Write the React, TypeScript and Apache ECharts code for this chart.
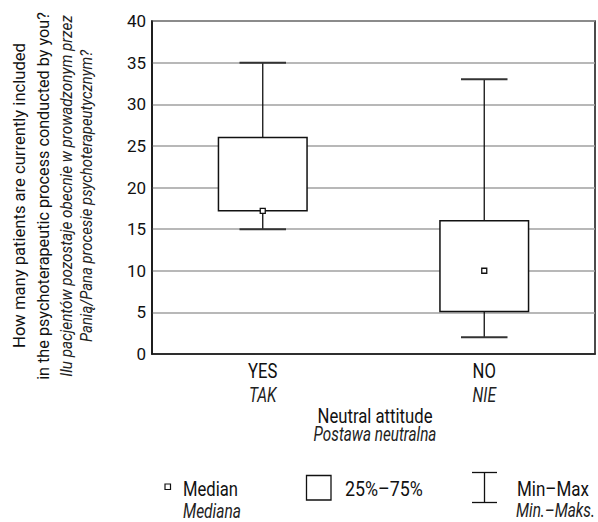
import React, { useEffect, useRef } from "react";
import * as echarts from "echarts";

const categories = ["YES", "NO"];
const categoriesPl = ["TAK", "NIE"];
// [min, q1, median, q3, max]
const boxStats = [
  [15, 17.2, 17.2, 26, 35],
  [2, 5.1, 10, 16, 33],
];
const yTicks = { min: 0, max: 40, interval: 5 };
const yTitle = [
  "How many patients are currently included",
  "in the psychoterapeutic process conducted by you?",
];
const yTitlePl = [
  "Ilu pacjentów pozostaje obecnie w prowadzonym przez",
  "Panią/Pana procesie psychoterapeutycznym?",
];
const xTitle = "Neutral attitude";
const xTitlePl = "Postawa neutralna";
const legendLabels = ["Median", "25%–75%", "Min–Max"];
const legendLabelsPl = ["Mediana", "", "Min.–Maks."];

const FONT = "Roboto";

export default function App() {
  const ref = useRef<HTMLDivElement>(null);
  useEffect(() => {
    if (!ref.current) return;
    const ctx = document.createElement("canvas").getContext("2d")!;
    const measure = (t: string, size: number, italic = false) => {
      ctx.font = `${italic ? "italic " : ""}${size}px ${FONT}`;
      return ctx.measureText(t).width || 1;
    };
    const US = 21; // upright size
    const IS = 20; // italic size
    const sU = 55 / measure("Median", US);
    const sI = 58 / measure("Mediana", IS, true);

    const hText = (t: string, x: number, y: number, italic: boolean, target: number | null, align = "left") => {
      const size = italic ? IS : US;
      const sx = target ? target / measure(t, size, italic) : italic ? sI : sU;
      return {
        type: "text", x, y, scaleX: sx, silent: true,
        style: { text: t, fontFamily: FONT, fontSize: size, fontStyle: italic ? "italic" : "normal", fill: italic ? "#222" : "#111", textAlign: align, textVerticalAlign: "middle" },
      };
    };
    const vText = (t: string, x: number, y: number, italic: boolean, target: number) => {
      const size = 17;
      return {
        type: "text", x, y, rotation: Math.PI / 2, scaleX: target / measure(t, size, italic), silent: true,
        style: { text: t, fontFamily: FONT, fontSize: size, fontStyle: italic ? "italic" : "normal", fill: italic ? "#222" : "#111", textAlign: "center", textVerticalAlign: "middle" },
      };
    };

    const chart = echarts.init(ref.current, undefined, { renderer: "svg" });
    const data = boxStats.map((s, i) => [i, ...s]);
    chart.setOption({
      animation: false,
      grid: { left: 152, right: 3, top: 21, bottom: 168, show: true, borderColor: "#111", borderWidth: 1.5, backgroundColor: "transparent" },
      xAxis: {
        type: "category",
        data: categories,
        axisLine: { lineStyle: { color: "#111", width: 1.5 } },
        axisTick: { show: false },
        axisLabel: { show: false },
      },
      yAxis: {
        type: "value",
        min: yTicks.min,
        max: yTicks.max,
        interval: yTicks.interval,
        axisLine: { show: true, lineStyle: { color: "#111", width: 1.5 } },
        axisTick: { show: false },
        axisLabel: { fontFamily: FONT, fontSize: 17, color: "#111", margin: 6 },
        splitLine: { lineStyle: { color: "#a0a0a0", width: 1.5 } },
      },
      series: [
        {
          type: "custom",
          clip: false,
          data,
          renderItem: (params: any, api: any) => {
            const x = api.value(0);
            const idx = params.dataIndex;
            const mn = api.coord([x, api.value(1)]);
            const q1 = api.coord([x, api.value(2)]);
            const md = api.coord([x, api.value(3)]);
            const q3 = api.coord([x, api.value(4)]);
            const mx = api.coord([x, api.value(5)]);
            const base = api.coord([x, yTicks.min]);
            const band = api.size([1, 0])[0];
            const bw = band * 0.4;
            const cw = band * 0.21;
            const cx = mn[0];
            const ls = { stroke: "#111", lineWidth: 1.3 };
            return {
              type: "group",
              children: [
                { type: "line", shape: { x1: cx, y1: mx[1], x2: cx, y2: q3[1] }, style: ls },
                { type: "line", shape: { x1: cx, y1: q1[1], x2: cx, y2: mn[1] }, style: ls },
                { type: "line", shape: { x1: cx - cw / 2, y1: mx[1], x2: cx + cw / 2, y2: mx[1] }, style: { stroke: "#333", lineWidth: 2 } },
                { type: "line", shape: { x1: cx - cw / 2, y1: mn[1], x2: cx + cw / 2, y2: mn[1] }, style: { stroke: "#333", lineWidth: 2 } },
                { type: "rect", shape: { x: cx - bw / 2, y: q3[1], width: bw, height: q1[1] - q3[1] }, style: { fill: "#fff", stroke: "#111", lineWidth: 1.5 } },
                { type: "rect", shape: { x: cx - 2.5, y: md[1] - 2.5, width: 5, height: 5 }, style: { fill: "#fff", stroke: "#111", lineWidth: 1.3 } },
                hText(categories[idx], cx, base[1] + 16.5, false, null, "center"),
                hText(categoriesPl[idx], cx, base[1] + 40.5, true, null, "center"),
              ],
            };
          },
        },
      ],
      graphic: [
        vText(yTitle[0], 19, 195.5, false, 305),
        vText(yTitle[1], 43, 196, false, 368),
        vText(yTitlePl[0], 66, 196, true, 362),
        vText(yTitlePl[1], 86, 196, true, 292),
        hText(xTitle, 375, 415.5, false, 115, "center"),
        hText(xTitlePl, 375, 433.5, true, 123, "center"),
        // legend: median
        { type: "rect", shape: { x: 165, y: 484, width: 5.5, height: 5.5 }, style: { fill: "#fff", stroke: "#111", lineWidth: 1.2 } },
        hText(legendLabels[0], 183, 489, false, 55),
        hText(legendLabelsPl[0], 183, 510.5, true, 58),
        // legend: box
        { type: "rect", shape: { x: 306.5, y: 475.5, width: 24.5, height: 24.5 }, style: { fill: "#fff", stroke: "#111", lineWidth: 1.3 } },
        hText(legendLabels[1], 345, 489, false, 78),
        // legend: whisker
        { type: "line", shape: { x1: 472, y1: 472.5, x2: 497, y2: 472.5 }, style: { stroke: "#111", lineWidth: 1.3 } },
        { type: "line", shape: { x1: 472, y1: 502.5, x2: 497, y2: 502.5 }, style: { stroke: "#111", lineWidth: 1.3 } },
        { type: "line", shape: { x1: 484.5, y1: 472.5, x2: 484.5, y2: 502.5 }, style: { stroke: "#111", lineWidth: 1.3 } },
        hText(legendLabels[2], 517, 489, false, 72),
        hText(legendLabelsPl[2], 516, 510, true, 79),
      ],
    });
    return () => chart.dispose();
  }, []);
  return <div ref={ref} style={{ width: 598, height: 522, position: "absolute", left: 0, top: 0 }} />;
}
